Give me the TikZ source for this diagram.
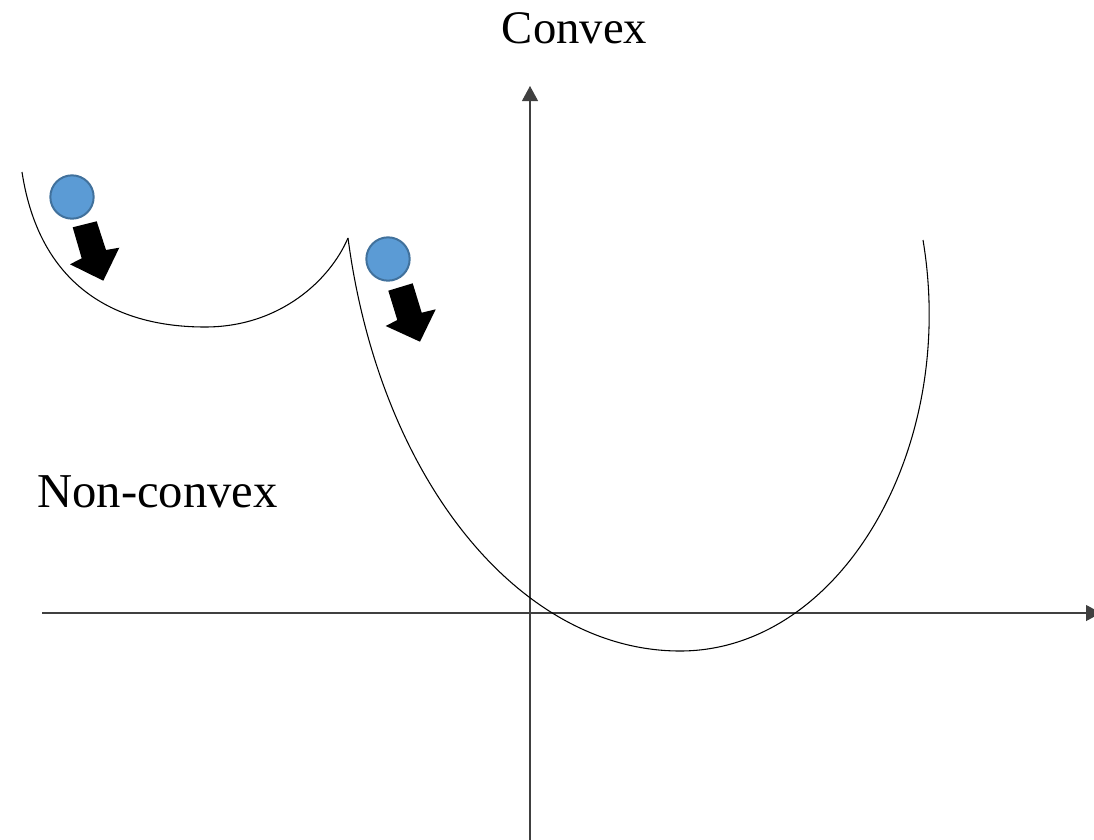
\documentclass[tikz,border=0pt]{standalone}
\usepackage{fontspec}
\setmainfont{Liberation Serif}
\usetikzlibrary{arrows.meta}
\definecolor{ballfill}{HTML}{5B9BD5}
\definecolor{balldraw}{HTML}{41719C}
\definecolor{axiscol}{HTML}{404040}
\tikzset{
  axis/.style={draw=axiscol, line width=0.8pt, -{Triangle[length=11.25pt,width=12pt]}},
  curve/.style={draw=black, line width=0.8pt},
  ball/.style={circle, fill=ballfill, draw=balldraw, line width=1.5pt, minimum size=32.5pt, inner sep=0pt},
  label/.style={font=\fontsize{35}{40}\selectfont, inner sep=0pt},
  blockarrow/.style={fill=black}
}
\begin{document}
\begin{tikzpicture}[x=0.75pt,y=-0.75pt]
\useasboundingbox (0,0) rectangle (1094,839);
% axes
\coordinate (yb) at (530,842);
\coordinate (yt) at (530,86);
\coordinate (xl) at (42,613);
\coordinate (xr) at (1101,613);
\draw[axis] (yb) -- (yt);
\draw[axis] (xl) -- (xr);
% labels
\node[label, anchor=base] (convex) at (574.5,43) {Convex};
\node[label, anchor=base west, font=\fontsize{36.5}{40}\selectfont] (nonconvex) at (37,507) {Non-convex};
% non-convex bowl
\coordinate (a0) at (22,172);
\coordinate (a1) at (205,327);
\coordinate (cusp) at (348,238);
\draw[curve] (a0) .. controls (40,290) and (120,327) .. (a1)
  .. controls (280,327) and (330,280) .. (cusp);
% convex curve
\coordinate (b1) at (680,651);
\coordinate (b2) at (923,240);
\draw[curve] (cusp) .. controls (380,480) and (520,651) .. (b1)
  .. controls (840,651) and (958,450) .. (b2);
% balls
\node[ball] (ball1) at (72,197) {};
\node[ball] (ball2) at (388,259) {};
% arrows
\fill[blockarrow] (72.7,227.3) -- (96.7,221.3) -- (106,250) -- (119.3,247.7)
  -- (103.3,280.7) -- (70,264.3) -- (81.7,258.3) -- cycle;
\fill[blockarrow] (388.3,290.7) -- (412.7,283.3) -- (421.7,312.7) -- (435.7,309.3)
  -- (420,341.7) -- (385.7,326) -- (397.3,320) -- cycle;
\end{tikzpicture}
\end{document}
